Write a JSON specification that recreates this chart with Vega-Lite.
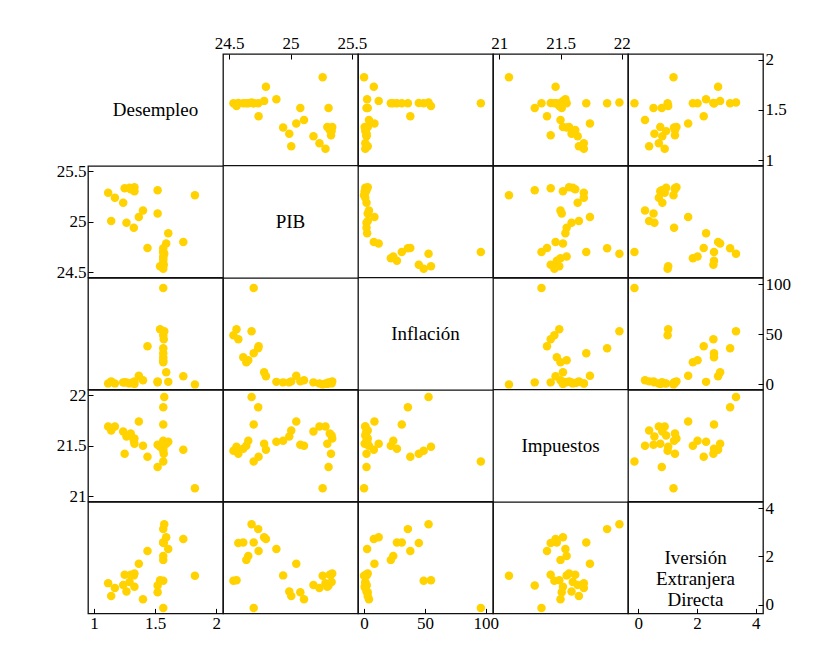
{
"$schema": "https://vega.github.io/schema/vega-lite/v6.json",
"padding": {"left": 55, "top": 33, "right": 5, "bottom": 5},
"background": "white",
"datasets": {"d": [
{"Desempleo":1.566,"PIB":24.535,"Inflacion":49,"Impuestos":21.45,"IED":1.00},
{"Desempleo":1.54,"PIB":24.56,"Inflacion":55,"Impuestos":21.49,"IED":1.02},
{"Desempleo":1.57,"PIB":24.575,"Inflacion":45,"Impuestos":21.42,"IED":2.56},
{"Desempleo":1.566,"PIB":24.615,"Inflacion":27,"Impuestos":21.47,"IED":2.58},
{"Desempleo":1.566,"PIB":24.64,"Inflacion":22,"Impuestos":21.50,"IED":1.86},
{"Desempleo":1.566,"PIB":24.656,"Inflacion":24,"Impuestos":21.55,"IED":2.02},
{"Desempleo":1.574,"PIB":24.683,"Inflacion":53,"Impuestos":21.98,"IED":3.33},
{"Desempleo":1.566,"PIB":24.70,"Inflacion":96,"Impuestos":21.345,"IED":-0.13},
{"Desempleo":1.566,"PIB":24.70,"Inflacion":31,"Impuestos":21.71,"IED":2.58},
{"Desempleo":1.566,"PIB":24.737,"Inflacion":36,"Impuestos":21.88,"IED":3.13},
{"Desempleo":1.437,"PIB":24.74,"Inflacion":38,"Impuestos":21.39,"IED":2.23},
{"Desempleo":1.59,"PIB":24.785,"Inflacion":12,"Impuestos":21.52,"IED":2.79},
{"Desempleo":1.73,"PIB":24.80,"Inflacion":8,"Impuestos":21.46,"IED":2.72},
{"Desempleo":1.607,"PIB":24.885,"Inflacion":2.5,"Impuestos":21.54,"IED":2.31},
{"Desempleo":1.325,"PIB":24.94,"Inflacion":2,"Impuestos":21.55,"IED":1.22},
{"Desempleo":1.265,"PIB":24.99,"Inflacion":2,"Impuestos":21.59,"IED":0.55},
{"Desempleo":1.14,"PIB":25.006,"Inflacion":3,"Impuestos":21.65,"IED":0.37},
{"Desempleo":1.366,"PIB":25.047,"Inflacion":8.5,"Impuestos":21.74,"IED":1.70},
{"Desempleo":1.52,"PIB":25.08,"Inflacion":3,"Impuestos":21.51,"IED":0.52},
{"Desempleo":1.40,"PIB":25.11,"Inflacion":4,"Impuestos":21.50,"IED":0.23},
{"Desempleo":1.238,"PIB":25.187,"Inflacion":2,"Impuestos":21.64,"IED":0.82},
{"Desempleo":1.17,"PIB":25.236,"Inflacion":1,"Impuestos":21.69,"IED":0.70},
{"Desempleo":1.825,"PIB":25.262,"Inflacion":0,"Impuestos":21.08,"IED":1.20},
{"Desempleo":1.115,"PIB":25.285,"Inflacion":1,"Impuestos":21.69,"IED":0.90},
{"Desempleo":1.52,"PIB":25.31,"Inflacion":2,"Impuestos":21.29,"IED":0.80},
{"Desempleo":1.25,"PIB":25.33,"Inflacion":2,"Impuestos":21.42,"IED":1.25},
{"Desempleo":1.33,"PIB":25.34,"Inflacion":3,"Impuestos":21.57,"IED":1.30},
{"Desempleo":1.29,"PIB":25.335,"Inflacion":1,"Impuestos":21.60,"IED":0.95},
{"Desempleo":1.30,"PIB":25.32,"Inflacion":1.5,"Impuestos":21.62,"IED":1.25},
{"Desempleo":1.33,"PIB":25.30,"Inflacion":0.5,"Impuestos":21.52,"IED":0.75}
]},
"data": {"name": "d"},
"spacing": 0,
"bounds": "flush",
"columns": 5,
"concat": [
 {"width":135,"height":111.4,"data":{"values":[{}]},"mark":{"type":"text","text":"Desempleo","font":"Liberation Serif","fontSize":19,"color":"#000"},"encoding":{}},
 {"width":135,"height":111.4,"mark":{"type":"point","filled":true,"size":72,"color":"#FFD200","opacity":1},"encoding":{
   "x":{"field":"PIB","type":"quantitative","scale":{"domain":[24.45,25.55],"nice":false,"zero":false},"axis":{"orient":"top","values":[24.5,25,25.5],"title":null}},
   "y":{"field":"Desempleo","type":"quantitative","scale":{"domain":[0.95,2.055],"nice":false,"zero":false},"axis":null}}},
 {"width":135,"height":111.4,"mark":{"type":"point","filled":true,"size":72,"color":"#FFD200","opacity":1},"encoding":{
   "x":{"field":"Inflacion","type":"quantitative","scale":{"domain":[-5,106],"nice":false,"zero":false},"axis":null},
   "y":{"field":"Desempleo","type":"quantitative","scale":{"domain":[0.95,2.055],"nice":false,"zero":false},"axis":null}}},
 {"width":135,"height":111.4,"mark":{"type":"point","filled":true,"size":72,"color":"#FFD200","opacity":1},"encoding":{
   "x":{"field":"Impuestos","type":"quantitative","scale":{"domain":[20.95,22.05],"nice":false,"zero":false},"axis":{"orient":"top","values":[21,21.5,22],"title":null}},
   "y":{"field":"Desempleo","type":"quantitative","scale":{"domain":[0.95,2.055],"nice":false,"zero":false},"axis":null}}},
 {"width":135,"height":111.4,"mark":{"type":"point","filled":true,"size":72,"color":"#FFD200","opacity":1},"encoding":{
   "x":{"field":"IED","type":"quantitative","scale":{"domain":[-0.35,4.25],"nice":false,"zero":false},"axis":null},
   "y":{"field":"Desempleo","type":"quantitative","scale":{"domain":[0.95,2.055],"nice":false,"zero":false},"axis":{"orient":"right","values":[1,1.5,2],"title":null}}}},

 {"width":135,"height":111.4,"mark":{"type":"point","filled":true,"size":72,"color":"#FFD200","opacity":1},"encoding":{
   "x":{"field":"Desempleo","type":"quantitative","scale":{"domain":[0.95,2.055],"nice":false,"zero":false},"axis":null},
   "y":{"field":"PIB","type":"quantitative","scale":{"domain":[24.45,25.55],"nice":false,"zero":false},"axis":{"orient":"left","values":[24.5,25,25.5],"title":null}}}},
 {"width":135,"height":111.4,"data":{"values":[{}]},"mark":{"type":"text","text":"PIB","font":"Liberation Serif","fontSize":19,"color":"#000"},"encoding":{}},
 {"width":135,"height":111.4,"mark":{"type":"point","filled":true,"size":72,"color":"#FFD200","opacity":1},"encoding":{
   "x":{"field":"Inflacion","type":"quantitative","scale":{"domain":[-5,106],"nice":false,"zero":false},"axis":null},
   "y":{"field":"PIB","type":"quantitative","scale":{"domain":[24.45,25.55],"nice":false,"zero":false},"axis":null}}},
 {"width":135,"height":111.4,"mark":{"type":"point","filled":true,"size":72,"color":"#FFD200","opacity":1},"encoding":{
   "x":{"field":"Impuestos","type":"quantitative","scale":{"domain":[20.95,22.05],"nice":false,"zero":false},"axis":null},
   "y":{"field":"PIB","type":"quantitative","scale":{"domain":[24.45,25.55],"nice":false,"zero":false},"axis":null}}},
 {"width":135,"height":111.4,"mark":{"type":"point","filled":true,"size":72,"color":"#FFD200","opacity":1},"encoding":{
   "x":{"field":"IED","type":"quantitative","scale":{"domain":[-0.35,4.25],"nice":false,"zero":false},"axis":null},
   "y":{"field":"PIB","type":"quantitative","scale":{"domain":[24.45,25.55],"nice":false,"zero":false},"axis":null}}},

 {"width":135,"height":111.4,"mark":{"type":"point","filled":true,"size":72,"color":"#FFD200","opacity":1},"encoding":{
   "x":{"field":"Desempleo","type":"quantitative","scale":{"domain":[0.95,2.055],"nice":false,"zero":false},"axis":null},
   "y":{"field":"Inflacion","type":"quantitative","scale":{"domain":[-5,106],"nice":false,"zero":false},"axis":null}}},
 {"width":135,"height":111.4,"mark":{"type":"point","filled":true,"size":72,"color":"#FFD200","opacity":1},"encoding":{
   "x":{"field":"PIB","type":"quantitative","scale":{"domain":[24.45,25.55],"nice":false,"zero":false},"axis":null},
   "y":{"field":"Inflacion","type":"quantitative","scale":{"domain":[-5,106],"nice":false,"zero":false},"axis":null}}},
 {"width":135,"height":111.4,"data":{"values":[{}]},"mark":{"type":"text","text":"Inflación","font":"Liberation Serif","fontSize":19,"color":"#000"},"encoding":{}},
 {"width":135,"height":111.4,"mark":{"type":"point","filled":true,"size":72,"color":"#FFD200","opacity":1},"encoding":{
   "x":{"field":"Impuestos","type":"quantitative","scale":{"domain":[20.95,22.05],"nice":false,"zero":false},"axis":null},
   "y":{"field":"Inflacion","type":"quantitative","scale":{"domain":[-5,106],"nice":false,"zero":false},"axis":null}}},
 {"width":135,"height":111.4,"mark":{"type":"point","filled":true,"size":72,"color":"#FFD200","opacity":1},"encoding":{
   "x":{"field":"IED","type":"quantitative","scale":{"domain":[-0.35,4.25],"nice":false,"zero":false},"axis":null},
   "y":{"field":"Inflacion","type":"quantitative","scale":{"domain":[-5,106],"nice":false,"zero":false},"axis":{"orient":"right","values":[0,50,100],"title":null}}}},

 {"width":135,"height":111.4,"mark":{"type":"point","filled":true,"size":72,"color":"#FFD200","opacity":1},"encoding":{
   "x":{"field":"Desempleo","type":"quantitative","scale":{"domain":[0.95,2.055],"nice":false,"zero":false},"axis":null},
   "y":{"field":"Impuestos","type":"quantitative","scale":{"domain":[20.95,22.05],"nice":false,"zero":false},"axis":{"orient":"left","values":[21,21.5,22],"title":null}}}},
 {"width":135,"height":111.4,"mark":{"type":"point","filled":true,"size":72,"color":"#FFD200","opacity":1},"encoding":{
   "x":{"field":"PIB","type":"quantitative","scale":{"domain":[24.45,25.55],"nice":false,"zero":false},"axis":null},
   "y":{"field":"Impuestos","type":"quantitative","scale":{"domain":[20.95,22.05],"nice":false,"zero":false},"axis":null}}},
 {"width":135,"height":111.4,"mark":{"type":"point","filled":true,"size":72,"color":"#FFD200","opacity":1},"encoding":{
   "x":{"field":"Inflacion","type":"quantitative","scale":{"domain":[-5,106],"nice":false,"zero":false},"axis":null},
   "y":{"field":"Impuestos","type":"quantitative","scale":{"domain":[20.95,22.05],"nice":false,"zero":false},"axis":null}}},
 {"width":135,"height":111.4,"data":{"values":[{}]},"mark":{"type":"text","text":"Impuestos","font":"Liberation Serif","fontSize":19,"color":"#000"},"encoding":{}},
 {"width":135,"height":111.4,"mark":{"type":"point","filled":true,"size":72,"color":"#FFD200","opacity":1},"encoding":{
   "x":{"field":"IED","type":"quantitative","scale":{"domain":[-0.35,4.25],"nice":false,"zero":false},"axis":null},
   "y":{"field":"Impuestos","type":"quantitative","scale":{"domain":[20.95,22.05],"nice":false,"zero":false},"axis":null}}},

 {"width":135,"height":111.4,"mark":{"type":"point","filled":true,"size":72,"color":"#FFD200","opacity":1},"encoding":{
   "x":{"field":"Desempleo","type":"quantitative","scale":{"domain":[0.95,2.055],"nice":false,"zero":false},"axis":{"orient":"bottom","values":[1,1.5,2],"title":null}},
   "y":{"field":"IED","type":"quantitative","scale":{"domain":[-0.35,4.25],"nice":false,"zero":false},"axis":null}}},
 {"width":135,"height":111.4,"mark":{"type":"point","filled":true,"size":72,"color":"#FFD200","opacity":1},"encoding":{
   "x":{"field":"PIB","type":"quantitative","scale":{"domain":[24.45,25.55],"nice":false,"zero":false},"axis":null},
   "y":{"field":"IED","type":"quantitative","scale":{"domain":[-0.35,4.25],"nice":false,"zero":false},"axis":null}}},
 {"width":135,"height":111.4,"mark":{"type":"point","filled":true,"size":72,"color":"#FFD200","opacity":1},"encoding":{
   "x":{"field":"Inflacion","type":"quantitative","scale":{"domain":[-5,106],"nice":false,"zero":false},"axis":{"orient":"bottom","values":[0,50,100],"title":null}},
   "y":{"field":"IED","type":"quantitative","scale":{"domain":[-0.35,4.25],"nice":false,"zero":false},"axis":null}}},
 {"width":135,"height":111.4,"mark":{"type":"point","filled":true,"size":72,"color":"#FFD200","opacity":1},"encoding":{
   "x":{"field":"Impuestos","type":"quantitative","scale":{"domain":[20.95,22.05],"nice":false,"zero":false},"axis":null},
   "y":{"field":"IED","type":"quantitative","scale":{"domain":[-0.35,4.25],"nice":false,"zero":false},"axis":null}}},
 {"width":135,"height":111.4,"layer":[
   {"mark":{"type":"point","opacity":0},"encoding":{
     "x":{"field":"IED","type":"quantitative","scale":{"domain":[-0.35,4.25],"nice":false,"zero":false},"axis":{"orient":"bottom","values":[0,2,4],"title":null}},
     "y":{"field":"IED","type":"quantitative","scale":{"domain":[-0.35,4.25],"nice":false,"zero":false},"axis":{"orient":"right","values":[0,2,4],"title":null}}}},
   {"data":{"values":[{}]},"mark":{"type":"text","text":["Iversión","Extranjera","Directa"],"lineHeight":21,"font":"Liberation Serif","fontSize":19,"color":"#000"},"encoding":{}}
 ]}
],
"config": {
 "view": {"stroke": "#111", "strokeWidth": 1.3},
 "axis": {"domain": false, "grid": false, "ticks": true, "tickSize": -5, "tickColor": "#000", "labelPadding": 7, "labelFont": "Liberation Serif", "labelFontSize": 17, "labelColor": "#000", "format": "~r", "labelFlush": false, "labelOverlap": false}
}
}
